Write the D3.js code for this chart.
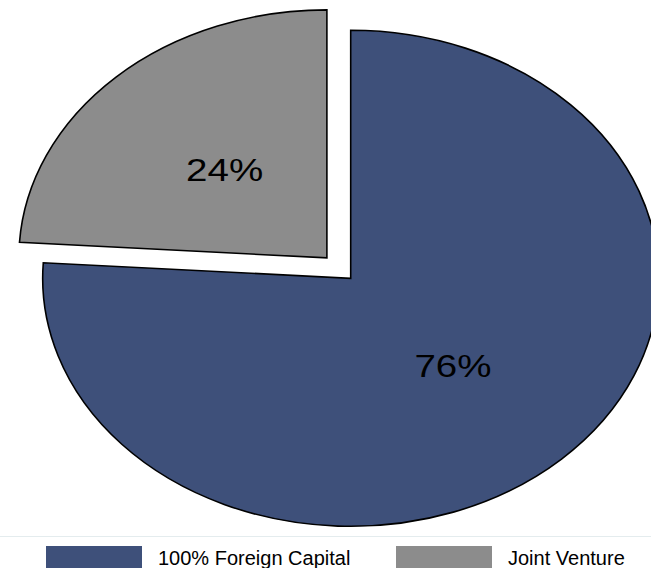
<!DOCTYPE html>
<html>
<head>
<meta charset="utf-8">
<script src="https://cdn.jsdelivr.net/npm/d3@7"></script>
<style>
  html, body { margin: 0; padding: 0; background: #fff; }
  svg { display: block; }
  text { font-family: "Liberation Sans", Arial, Helvetica, sans-serif; }
</style>
</head>
<body>
<svg id="chart" width="651" height="568"></svg>
<script>
// Ownership structure of firms
const categories = ["100% Foreign Capital", "Joint Venture"];
const shares = [76, 24];
const sliceLabels = ["76%", "24%"];
const colors = ["#3e507a", "#8c8c8c"];
const exploded = [false, true];

const width = 651, height = 568;
const svg = d3.select("#chart");

// Pie is laid out as a circle and stretched horizontally into an ellipse
const radius = 248;
const stretchX = 1.242;
const cx = 350.7, cy = 278.3;
const explodeDist = 28;

const pie = d3.pie().sort(null).value(d => d.value);
const arcs = pie(categories.map((c, i) => ({ name: c, value: shares[i], label: sliceLabels[i], color: colors[i], exploded: exploded[i] })));

const arc = d3.arc().innerRadius(0).outerRadius(radius);
// Labels sit about halfway out along each slice's bisector
const labelR = radius * 0.485;
const labelArc = d3.arc().innerRadius(labelR).outerRadius(labelR);

const pieG = svg.append("g")
  .attr("transform", `translate(${cx},${cy}) scale(${stretchX},1)`);

const slice = pieG.selectAll("g.slice")
  .data(arcs)
  .join("g")
  .attr("class", "slice")
  .attr("transform", d => {
    if (!d.data.exploded) return null;
    const mid = (d.startAngle + d.endAngle) / 2;
    return `translate(${explodeDist * Math.sin(mid)},${-explodeDist * Math.cos(mid)})`;
  });

slice.append("path")
  .attr("d", arc)
  .attr("fill", d => d.data.color)
  .attr("stroke", "#000")
  .attr("stroke-width", 1.6)
  .attr("stroke-linejoin", "miter")
  .attr("vector-effect", "non-scaling-stroke");

slice.append("text")
  .attr("transform", d => `translate(${labelArc.centroid(d)})`)
  .attr("text-anchor", "middle")
  .attr("dy", "0.36em")
  .attr("font-size", 31)
  .attr("fill", "#000")
  .text(d => d.data.label);

// Legend area separator
svg.append("line")
  .attr("x1", 0).attr("x2", width)
  .attr("y1", 536.5).attr("y2", 536.5)
  .attr("stroke", "#e4ecee")
  .attr("stroke-width", 1);

// Legend
const legendX = d3.scalePoint().domain(categories).range([46, 396]);
const legend = svg.selectAll("g.legend")
  .data(categories)
  .join("g")
  .attr("class", "legend")
  .attr("transform", d => `translate(${legendX(d)},546)`);

legend.append("rect")
  .attr("width", 96)
  .attr("height", 22)
  .attr("fill", (d, i) => colors[i]);

legend.append("text")
  .attr("x", 112)
  .attr("y", 18.7)
  .attr("font-size", 20)
  .attr("fill", "#000")
  .text(d => d);
</script>
</body>
</html>
